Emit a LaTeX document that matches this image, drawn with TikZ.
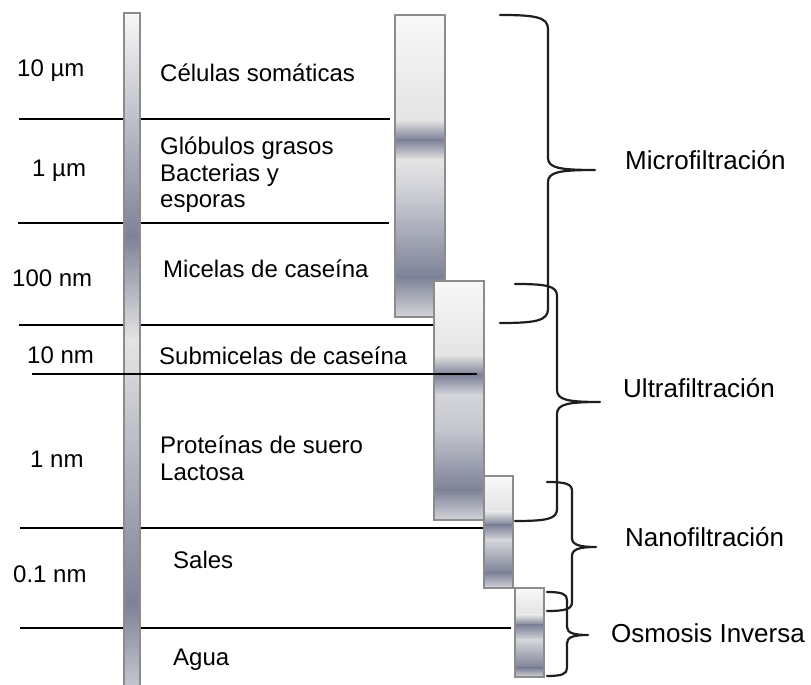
\documentclass[tikz,border=0pt]{standalone}
\usepackage{fontspec}
\setmainfont{Liberation Sans}
\definecolor{barwhite}{HTML}{F8F8F8}
\definecolor{barlight}{HTML}{E4E4E4}
\definecolor{barmid}{HTML}{D4D5DA}
\definecolor{barlow}{HTML}{C4C6CE}
\definecolor{bardark}{HTML}{7D8297}
\definecolor{framegray}{HTML}{8C8C8C}
\definecolor{braceink}{HTML}{1E1E1E}
\tikzset{
  sizeline/.style={draw=black, line width=1.6pt},
  frame/.style={draw=framegray, line width=1.8pt},
  brace/.style={draw=braceink, line width=2.2pt, line join=round, line cap=round},
  sizelabel/.style={anchor=base west, inner sep=0pt, font=\fontsize{24}{27}\selectfont},
  methodlabel/.style={anchor=base west, inner sep=0pt, font=\fontsize{26}{30}\selectfont}
}
\begin{document}
\begin{tikzpicture}[x=1pt,y=1pt]
\useasboundingbox (0,0) rectangle (811,685);
%size lines
\draw[sizeline] (19,566) -- (390,566);
\draw[sizeline] (18,462) -- (389,462);
\draw[sizeline] (19,360) -- (433,360);
\draw[sizeline] (20,157) -- (483,157);
\draw[sizeline] (20,57) -- (511,57);

%size scale bar
\shade[top color=barwhite, bottom color=bardark] (124,672) rectangle (140,449);
\shade[top color=bardark, bottom color=barlight] (124,449) rectangle (140,345);
\shade[top color=barlight, bottom color=barlight!95!black] (124,345) rectangle (140,311);
\shade[top color=barmid, bottom color=bardark] (124,311) rectangle (140,82);
\shade[top color=bardark, bottom color=barlow] (124,82) rectangle (140,0);
\draw[frame] (124,0) -- (124,672) -- (140,672) -- (140,0);

%MF
\shade[top color=barwhite, bottom color=barlight] (395,670) rectangle (445,565);
\shade[top color=barlight, bottom color=bardark] (395,565) rectangle (445,545);
\shade[top color=bardark, bottom color=barlight] (395,545) rectangle (445,525);
\shade[top color=barlight, bottom color=barmid] (395,525) rectangle (445,500);
\shade[top color=barmid, bottom color=bardark] (395,500) rectangle (445,408);
\shade[top color=bardark, bottom color=barmid] (395,408) rectangle (445,368);
\draw[frame] (395,368) rectangle (445,670);

%UF
\shade[top color=barwhite, bottom color=barlight] (434,404) rectangle (484,330);
\shade[top color=barlight, bottom color=bardark] (434,330) rectangle (484,310);
\shade[top color=bardark, bottom color=barmid] (434,310) rectangle (484,290);
\shade[top color=barmid, bottom color=barlow] (434,290) rectangle (484,255);
\shade[top color=barlow, bottom color=bardark] (434,255) rectangle (484,195);
\shade[top color=bardark, bottom color=barmid] (434,195) rectangle (484,165);
\draw[frame] (434,165) rectangle (484,404);

%NF
\shade[top color=barwhite, bottom color=barlight] (484,209) rectangle (513,173);
\shade[top color=barlight, bottom color=bardark] (484,173) rectangle (513,160);
\shade[top color=bardark, bottom color=barmid] (484,160) rectangle (513,145);
\shade[top color=barmid, bottom color=bardark] (484,145) rectangle (513,112);
\shade[top color=bardark, bottom color=barmid] (484,112) rectangle (513,97);
\draw[frame] (484,97) rectangle (513,209);

%RO
\shade[top color=barwhite, bottom color=barlight] (515,97) rectangle (544,70);
\shade[top color=barlight, bottom color=bardark] (515,70) rectangle (544,60);
\shade[top color=bardark, bottom color=barmid] (515,60) rectangle (544,45);
\shade[top color=barmid, bottom color=bardark] (515,45) rectangle (544,17);
\shade[top color=bardark, bottom color=barmid] (515,17) rectangle (544,8);
\draw[frame] (515,8) rectangle (544,97);

\draw[sizeline] (32,311) -- (477,311);

%braces
\draw[brace] (500,670) .. controls (535,670) and (548,668) .. (548,656) -- (548,527)
  .. controls (548,517) and (560,515) .. (595,515) .. controls (560,515) and (548,513) .. (548,503)
  -- (548,376) .. controls (548,364) and (535,362) .. (500,362);
\draw[brace] (515,401) .. controls (547,401) and (557,399) .. (557,389) -- (557,295)
  .. controls (557,285) and (568,283) .. (600,283) .. controls (568,283) and (557,281) .. (557,271)
  -- (557,176) .. controls (557,166) and (547,164) .. (515,164);
\draw[brace] (547,203) .. controls (566,203) and (572,201) .. (572,194) -- (572,147)
  .. controls (572,140) and (580,138) .. (596,138) .. controls (580,138) and (572,136) .. (572,129)
  -- (572,83) .. controls (572,76) and (566,74) .. (547,74);
\draw[brace] (547,93) .. controls (562,93) and (567,91) .. (567,85) -- (567,58)
  .. controls (567,52) and (574,50) .. (588,50) .. controls (574,50) and (567,48) .. (567,42)
  -- (567,17) .. controls (567,11) and (562,9) .. (547,9);

%sizes
\node[sizelabel] (tenum) at (17,608) {10 µm};
\node[sizelabel] (oneum) at (32,508) {1 µm};
\node[sizelabel] (hundrednm) at (12,398) {100 nm};
\node[sizelabel] (tennm) at (27,321) {10 nm};
\node[sizelabel] (onenm) at (30,217) {1 nm};
\node[sizelabel] (tenthnm) at (13,102) {0.1 nm};

%components
\node[sizelabel] (celulas) at (160,603) {Células somáticas};
\node[sizelabel] (globulos) at (160,530) {Glóbulos grasos};
\node[sizelabel] (bacterias) at (160,503.5) {Bacterias y};
\node[sizelabel] (esporas) at (160,477) {esporas};
\node[sizelabel] (micelas) at (163,407) {Micelas de caseína};
\node[sizelabel] (submicelas) at (159,320) {Submicelas de caseína};
\node[sizelabel] (proteinas) at (160,231) {Proteínas de suero};
\node[sizelabel] (lactosa) at (160,204) {Lactosa};
\node[sizelabel] (sales) at (173,116) {Sales};
\node[sizelabel] (agua) at (173,19) {Agua};

%methods
\node[methodlabel] (mf) at (625,515) {Microfiltración};
\node[methodlabel] (uf) at (623,287) {Ultrafiltración};
\node[methodlabel] (nf) at (625,138) {Nanofiltración};
\node[methodlabel] (ro) at (611,42) {Osmosis Inversa};
\end{tikzpicture}
\end{document}
